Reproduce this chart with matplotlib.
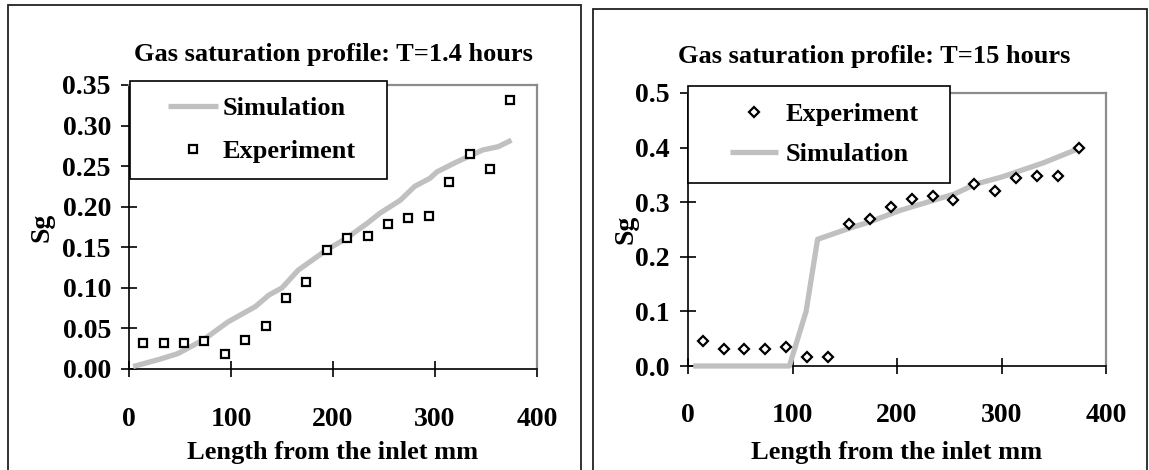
import matplotlib
matplotlib.use("Agg")
import matplotlib.pyplot as plt
from matplotlib.lines import Line2D
from matplotlib.patches import Rectangle
from matplotlib.ticker import FormatStrFormatter
from matplotlib.legend_handler import HandlerLine2D

# ---- data ----
exp_x = [14, 34, 54, 74, 94, 114, 134, 154, 174, 194, 214, 234, 254, 274, 294, 314, 334, 354, 374]

# T = 1.4 hours
exp1_sg = [0.032, 0.032, 0.032, 0.034, 0.018, 0.036, 0.053, 0.088, 0.107, 0.147, 0.161, 0.164,
           0.179, 0.186, 0.189, 0.231, 0.265, 0.246, 0.332]
sim1_x = [4, 30, 48, 73, 97, 124, 137, 150, 166, 184, 194, 213, 234, 246, 266, 280, 295, 302,
          321, 347, 362, 375]
sim1_sg = [0.003, 0.012, 0.019, 0.036, 0.058, 0.077, 0.091, 0.100, 0.122, 0.138, 0.147, 0.161,
           0.180, 0.192, 0.208, 0.225, 0.235, 0.243, 0.255, 0.270, 0.274, 0.282]

# T = 15 hours
exp2_sg = [0.046, 0.032, 0.032, 0.032, 0.035, 0.016, 0.016, 0.260, 0.270, 0.292, 0.305, 0.311,
           0.304, 0.333, 0.320, 0.345, 0.348, 0.348, 0.399]
sim2_x = [5, 97, 113, 124, 154, 174, 203, 241, 255, 275, 300, 340, 375]
sim2_sg = [0.0, 0.0, 0.10, 0.232, 0.252, 0.264, 0.285, 0.307, 0.315, 0.333, 0.346, 0.372, 0.399]

titles = ["Gas saturation profile: T=1.4 hours", "Gas saturation profile: T=15 hours"]

plt.rcParams["font.family"] = ["Liberation Serif", "DejaVu Serif"]
plt.rcParams["font.weight"] = "bold"
plt.rcParams["axes.labelweight"] = "bold"
plt.rcParams["font.size"] = 19

W, H = 1149, 470
FS = 19 * 100 / 72  # font size in px
fig = plt.figure(figsize=(W / 100, H / 100), dpi=100)


def px(x0, y_top, w, h):
    # pixel box (top-left origin) -> figure fraction rect
    return [x0 / W, 1 - (y_top + h) / H, w / W, h / H]


# panel frames
for x0, y0, x1 in [(8, 5, 581), (593, 9, 1147)]:
    fig.add_artist(Rectangle((x0 / W, -0.1), (x1 - x0) / W, 1.1 - y0 / H,
                             transform=fig.transFigure, fill=False,
                             edgecolor="#222222", linewidth=1.3))

ax1 = fig.add_axes(px(129, 85, 408, 284))
ax2 = fig.add_axes(px(688, 93, 418, 273))

sim_style = dict(color="#c0c0c0", linewidth=3.8, solid_capstyle="butt", zorder=3, clip_on=False)

l1, = ax1.plot(sim1_x, sim1_sg, label="Simulation", **sim_style)
m1, = ax1.plot(exp_x, exp1_sg, linestyle="none", marker="s", markersize=6.4,
               markerfacecolor="white", markeredgecolor="black", markeredgewidth=1.6,
               label="Experiment", zorder=4, clip_on=False)

m2, = ax2.plot(exp_x, exp2_sg, linestyle="none", marker="D", markersize=5.4,
               markerfacecolor="white", markeredgecolor="black", markeredgewidth=1.6,
               label="Experiment", zorder=4, clip_on=False)
l2, = ax2.plot(sim2_x, sim2_sg, label="Simulation", **sim_style)

ax1.set_ylim(0, 0.35)
ax1.set_yticks([0, 0.05, 0.10, 0.15, 0.20, 0.25, 0.30, 0.35])
ax1.yaxis.set_major_formatter(FormatStrFormatter("%.2f"))
ax2.set_ylim(0, 0.5)
ax2.set_yticks([0, 0.1, 0.2, 0.3, 0.4, 0.5])
ax2.yaxis.set_major_formatter(FormatStrFormatter("%.1f"))

for ax in (ax1, ax2):
    ax.set_xlim(0, 400)
    ax.set_xticks([0, 100, 200, 300, 400])
    ax.spines["left"].set_color("black")
    ax.spines["bottom"].set_color("black")
    ax.spines["left"].set_linewidth(1.2)
    ax.spines["bottom"].set_linewidth(1.2)
    ax.spines["top"].set_color("#8c8c8c")
    ax.spines["right"].set_color("#8c8c8c")
    ax.spines["top"].set_linewidth(1.6)
    ax.spines["right"].set_linewidth(1.6)
    ax.tick_params(direction="inout", length=12, width=1.2, colors="black", labelsize=20)
    ax.tick_params(axis="x", pad=21)
    ax.tick_params(axis="y", pad=7)
    ax.set_xlabel("Length from the inlet mm", fontsize=19, fontweight="bold", va="center")
    ax.set_ylabel("Sg", fontsize=20, fontweight="bold", va="center")

ax1.xaxis.set_label_coords(0.5, (369 - 452) / 284)
ax2.xaxis.set_label_coords(0.5, (366 - 452) / 273)
ax1.yaxis.set_label_coords(-87 / 408, 0.5)
ax2.yaxis.set_label_coords(-62 / 418, 0.5)

fig.text(333 / W, 1 - 55 / H, titles[0], ha="center", va="center", fontsize=19)
fig.text(874 / W, 1 - 57 / H, titles[1], ha="center", va="center", fontsize=19)


def add_legend(ax, handles, labels, box, line_x0, line_x1, text_x0, spacing_px, pad_px):
    # box = (left, top, right, bottom) in pixels
    left, top, right, bottom = box
    start = left + pad_px
    hmap = {Line2D: HandlerLine2D(xpad=(line_x0 - start) / FS)}
    lg = ax.legend(handles, labels, loc="upper left", mode="expand",
                   bbox_to_anchor=(left / W, 1 - bottom / H, (right - left) / W, (bottom - top) / H),
                   bbox_transform=fig.transFigure, borderaxespad=0,
                   frameon=True, fancybox=False, framealpha=1, edgecolor="black",
                   fontsize=19, borderpad=pad_px / FS, handlelength=(line_x1 - start) / FS,
                   handletextpad=(text_x0 - line_x1) / FS,
                   labelspacing=spacing_px / FS, handler_map=hmap)
    lg.get_frame().set_linewidth(1.2)
    lg.set_zorder(5)
    return lg


add_legend(ax1, [l1, m1], ["Simulation", "Experiment"], (130, 81, 387, 181),
           168, 218, 223, 19, 16)
add_legend(ax2, [m2, l2], ["Experiment", "Simulation"], (688, 86, 950, 180),
           730, 778, 786, 16, 17)

fig.savefig("out.png", dpi=100)
